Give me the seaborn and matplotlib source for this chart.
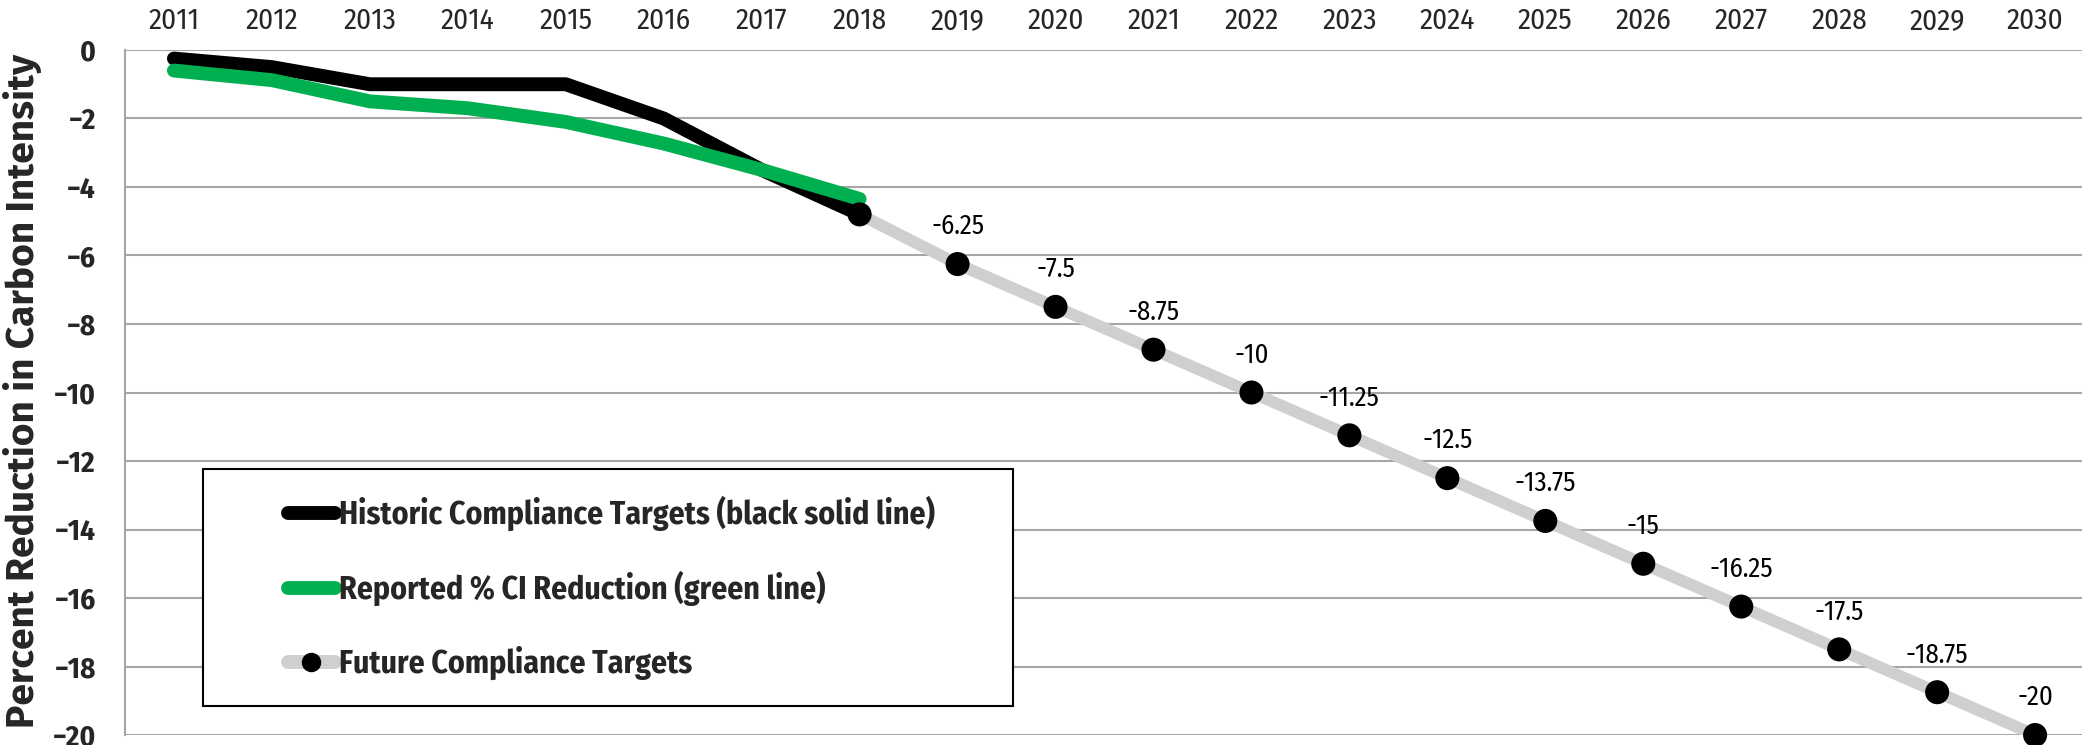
import matplotlib
matplotlib.use("Agg")
import matplotlib.pyplot as plt
import pandas as pd
import seaborn as sns
from matplotlib.lines import Line2D
from matplotlib.patches import Rectangle

# Data
years = list(range(2011, 2031))
historic_years = [2011, 2012, 2013, 2014, 2015, 2016, 2017, 2018]
historic_targets = [-0.25, -0.5, -1.0, -1.0, -1.0, -2.0, -3.5, -4.8]
reported_ci = [-0.6, -0.88, -1.5, -1.7, -2.1, -2.73, -3.5, -4.35]
future_years = list(range(2018, 2031))
future_targets = [-4.8, -6.25, -7.5, -8.75, -10, -11.25, -12.5, -13.75,
                  -15, -16.25, -17.5, -18.75, -20]
future_labels = ["", "-6.25", "-7.5", "-8.75", "-10", "-11.25", "-12.5",
                 "-13.75", "-15", "-16.25", "-17.5", "-18.75", "-20"]
legend_labels = ['Historic Compliance Targets (black solid line)',
                 'Reported % CI Reduction (green line)',
                 'Future Compliance Targets']

hist_df = pd.DataFrame({'Year': historic_years, 'Historic': historic_targets, 'Reported': reported_ci})
fut_df = pd.DataFrame({'Year': future_years, 'Target': future_targets})

sns.set_style("white")
plt.rcParams['font.family'] = ['Fira Sans Condensed', 'DejaVu Sans']

fig = plt.figure(figsize=(20.82, 7.45), dpi=100)
ax = fig.add_axes([0.060, 0.0134, 0.941, 0.9195])

GRAY = '#d0cece'
GREEN = '#00b050'
sns.lineplot(data=fut_df, x='Year', y='Target', color=GRAY, linewidth=8.5, ax=ax,
             solid_capstyle='butt', zorder=2)
sns.lineplot(data=hist_df, x='Year', y='Historic', color='black', linewidth=10, ax=ax,
             solid_capstyle='round', zorder=3)
sns.lineplot(data=hist_df, x='Year', y='Reported', color=GREEN, linewidth=10, ax=ax,
             solid_capstyle='round', zorder=4)
sns.scatterplot(data=fut_df, x='Year', y='Target', color='black', s=300, ax=ax,
                edgecolor='none', zorder=5, clip_on=False)

for yr, val, lab in zip(future_years, future_targets, future_labels):
    if lab:
        ax.annotate(lab, (yr, val), xytext=(0, 27), textcoords='offset points',
                    ha='center', va='center', fontsize=19.3, color='black')

ax.set_xlim(2010.5, 2030.5)
ax.set_ylim(-20, 0)
ax.set_xticks(years)
ax.set_xticklabels([str(y) for y in years])
ax.set_yticks(range(-20, 1, 2))
ax.xaxis.tick_top()
ax.tick_params(axis='x', length=0, labelsize=21, pad=11)
ax.tick_params(axis='y', length=0, labelsize=21, pad=21)
for t in ax.get_yticklabels():
    t.set_fontweight('bold')
ax.grid(axis='y', color='#a6a6a6', linewidth=1.5)
ax.grid(axis='x', visible=False)
for s in ['top', 'right', 'bottom']:
    ax.spines[s].set_visible(False)
ax.spines['left'].set_color('#a6a6a6')
ax.spines['left'].set_linewidth(1.5)
ax.set_xlabel('')
ax.set_ylabel('Percent Reduction in Carbon Intensity', fontsize=28, fontweight='bold',
              family=['Fira Sans', 'DejaVu Sans'])
ax.yaxis.set_label_coords(-0.0421, 0.503)

# legend box
ax.add_patch(Rectangle((0.0398, 0.0424), 0.4133, 0.3465, transform=ax.transAxes,
                       facecolor='white', edgecolor='black', linewidth=1.5, zorder=6))
handles = [
    Line2D([], [], color='black', linewidth=10, solid_capstyle='round'),
    Line2D([], [], color=GREEN, linewidth=10, solid_capstyle='round'),
    Line2D([], [], color=GRAY, linewidth=10, solid_capstyle='round', marker='o',
           markersize=13, markerfacecolor='black', markeredgecolor='black'),
]
leg = ax.legend(handles, legend_labels, loc='center left', bbox_to_anchor=(0.0830, 0.215),
                fontsize=22.9, frameon=False, handlelength=1.48, handletextpad=0.15,
                labelspacing=1.25, borderpad=0, borderaxespad=0)
leg.set_zorder(7)
for t in leg.get_texts():
    t.set_fontweight('bold')

fig.savefig('out.png', dpi=100)
